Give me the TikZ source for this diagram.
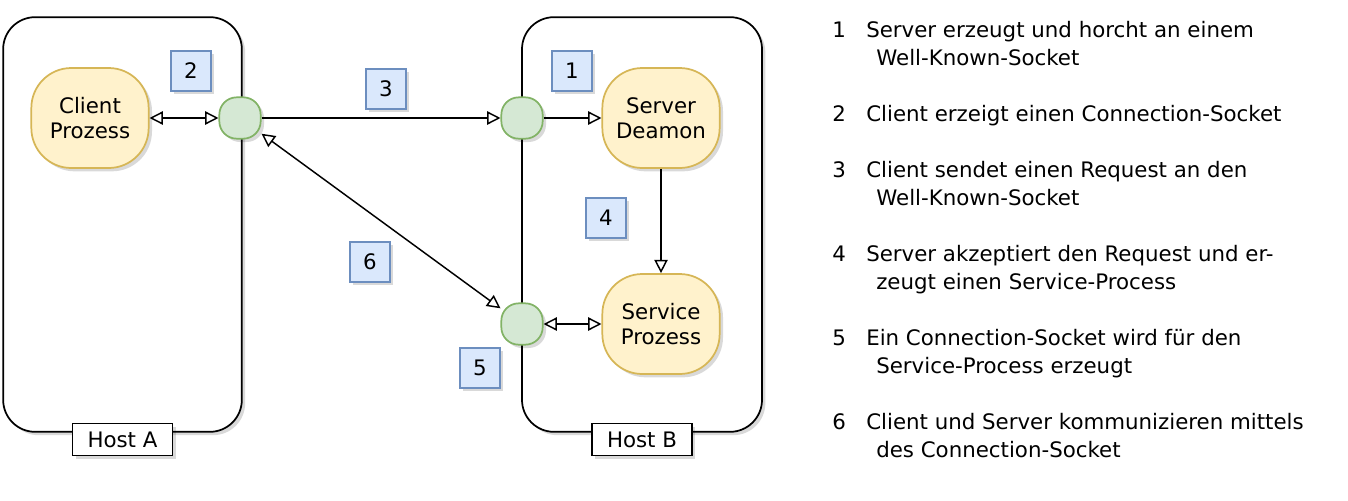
\documentclass[tikz,border=0pt]{standalone}
\usepackage{fontspec}
\setmainfont{DejaVu Sans}
\usetikzlibrary{positioning,arrows.meta,shadows}
\definecolor{procfill}{HTML}{FFF2CC}
\definecolor{procline}{HTML}{D6B656}
\definecolor{sockfill}{HTML}{D5E8D4}
\definecolor{sockline}{HTML}{82B366}
\definecolor{stepfill}{HTML}{DAE8FC}
\definecolor{stepline}{HTML}{6C8EBF}
\tikzset{
  softshadow/.style={drop shadow={shadow xshift=2.5pt,shadow yshift=-2.5pt,fill=black,opacity=0.15}},
  hostbox/.style={draw,fill=white,line width=1.3pt,rounded corners=24pt,softshadow},
  hostlabel/.style={draw,fill=white,line width=1pt,minimum width=75pt,minimum height=24pt,softshadow},
  procbox/.style={draw=procline,fill=procfill,line width=1.3pt,rounded corners=30pt,
    minimum width=88pt,minimum height=75pt,align=center,softshadow},
  sockbox/.style={draw=sockline,fill=sockfill,line width=1.3pt,rounded corners=13pt,minimum size=31pt,softshadow},
  numbox/.style={draw=stepline,fill=stepfill,line width=1pt,minimum size=30pt,softshadow},
  link/.style={line width=1.1pt,-{Triangle[open,length=10pt,width=10pt]}},
  dlink/.style={line width=1.1pt,{Triangle[open,length=10pt,width=10pt]}-{Triangle[open,length=10pt,width=10pt]}},
  notenum/.style={anchor=base west,inner sep=0pt},
  notetext/.style={anchor=base west,inner sep=0pt},
  every node/.append style={font=\fontsize{16}{19}\selectfont},
}
\newcommand{\lnote}[3]{%
  \node[notenum] (num#1) at (832,#2) {#1};
  \node[notetext] (note#1) at (866,#2) {#3};}
\newcommand{\lmore}[3]{%
  \node[notetext] (more#1) at (876,#2) {#3};}

\begin{document}
\begin{tikzpicture}[x=0.75pt,y=-0.75pt]
  \useasboundingbox (0,0) rectangle (1348,500);
  % hosts
  \node[hostbox,minimum width=179pt,minimum height=311pt] (hostA) at (122.5,224.5) {};
  \node[hostbox,minimum width=180pt,minimum height=311pt] (hostB) at (642,224.5) {};
  \node[hostlabel,yshift=-5pt] (labA) at (hostA.south) {Host A};
  \node[hostlabel,yshift=-5pt] (labB) at (hostB.south) {Host B};
  % processes and sockets
  \node[procbox] (client) at (90,118) {Client\\Prozess};
  \node[procbox] (server) at (661,118) {Server\\Deamon};
  \node[procbox] (service) at (661,324) {Service\\Prozess};
  \node[sockbox] (sockA) at (240,118) {};
  \node[sockbox] (sockB1) at (522,118) {};
  \node[sockbox] (sockB2) at (522,324) {};
  % step numbers
  \node[numbox] (step1) at (572,71) {1};
  \node[numbox] (step2) at (191,71) {2};
  \node[numbox] (step3) at (386,89) {3};
  \node[numbox] (step4) at (606,218) {4};
  \node[numbox] (step5) at (480,368) {5};
  \node[numbox] (step6) at (370,262) {6};
  % connections
  \draw[dlink] (client) -- (sockA);
  \draw[link] (sockA) -- (sockB1);
  \draw[link] (sockB1) -- (server);
  \draw[link] (server) -- (service);
  \draw[dlink] (sockB2) -- (service);
  \draw[dlink] (sockA) -- (sockB2);
  % legend
  \lnote{1}{37}{Server erzeugt und horcht an einem}
  \lmore{1}{65}{Well-Known-Socket}
  \lnote{2}{121}{Client erzeigt einen Connection-Socket}
  \lnote{3}{177}{Client sendet einen Request an den}
  \lmore{3}{205}{Well-Known-Socket}
  \lnote{4}{261}{Server akzeptiert den Request und er-}
  \lmore{4}{289}{zeugt einen Service-Process}
  \lnote{5}{345}{Ein Connection-Socket wird für den}
  \lmore{5}{373}{Service-Process erzeugt}
  \lnote{6}{429}{Client und Server kommunizieren mittels}
  \lmore{6}{457}{des Connection-Socket}
\end{tikzpicture}
\end{document}
